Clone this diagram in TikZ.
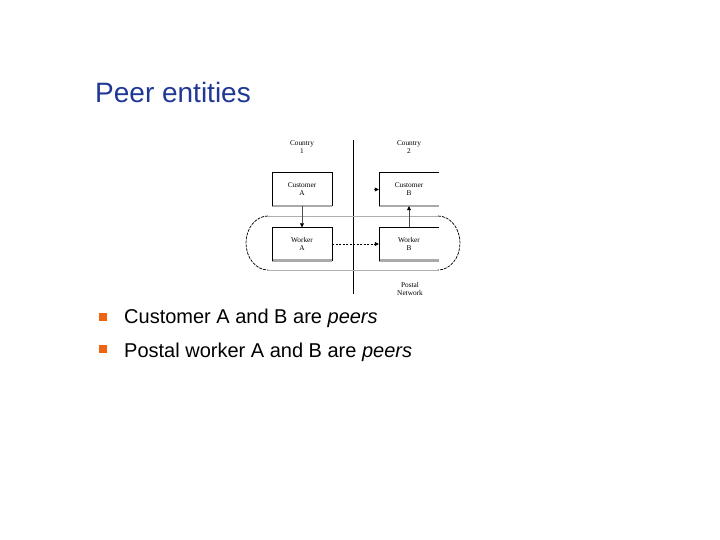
\documentclass[tikz,border=0pt]{standalone}
\usepackage{fontspec}
\setmainfont{Liberation Sans}
\newfontfamily\diagfont{Liberation Serif}
\usetikzlibrary{arrows.meta}
\definecolor{titleblue}{RGB}{31,56,150}
\definecolor{bulletorange}{RGB}{240,100,20}
\definecolor{shadowgray}{RGB}{170,170,170}
\definecolor{ovalgray}{RGB}{175,175,175}
\tikzset{
  x=1pt, y=-1pt,
  entity/.style={draw=none, minimum width=60pt, minimum height=33pt, inner sep=0pt,
    align=center, font=\diagfont\fontsize{7.3}{8}\selectfont},
  lbl/.style={inner sep=0pt, align=center, font=\diagfont\fontsize{7.3}{8}\selectfont},
  edgeblack/.style={draw=black, line width=0.6pt},
  edgeshadow/.style={draw=shadowgray, line width=2.6pt},
  ovalline/.style={draw=ovalgray, line width=0.8pt},
  ovalarc/.style={draw=black, line width=0.7pt, dash pattern=on 3pt off 1pt},
  flow/.style={draw=black!70, line width=0.7pt, -{Triangle[length=4pt,width=4pt,black]}},
  bullet/.style={fill=bulletorange, draw=none, minimum size=8pt, inner sep=0pt},
  btext/.style={anchor=base west, inner sep=0pt, font=\fontsize{20}{24}\selectfont},
}
\begin{document}
\begin{tikzpicture}
\useasboundingbox (0,0) rectangle (720,540);
% title
\node[anchor=base west, inner sep=0pt, text=titleblue, font=\fontsize{28}{32}\selectfont] (title) at (95,103) {Peer entities};

% vertical separator
\coordinate (vtop) at (353,140);
\coordinate (vbot) at (353,294);
\draw[line width=0.8pt] (vtop) -- (vbot);

% country labels
\node[lbl] (c1) at (302,147) {Country\\1};
\node[lbl] (c2) at (409,147) {Country\\2};

% boxes
\node[entity] (custA) at (302,189.5) {Customer\\A};
\node[entity] (custB) at (409,189.5) {Customer\\B};
\node[entity] (workA) at (302,244) {Worker\\A};
\node[entity] (workB) at (409,244) {Worker\\B};

% box edges (A: closed, B: open on the right)
\foreach \b in {custA,workA}{
  \draw[edgeshadow] (\b.south west) -- (\b.south east);
  \draw[edgeblack] (\b.south west) -- (\b.north west) -- (\b.north east) -- (\b.south east);
}
\foreach \b in {custB,workB}{
  \draw[edgeshadow] (\b.south west) -- (\b.south east);
  \draw[edgeblack] (\b.south west) -- (\b.north west) -- (\b.north east);
}

% postal network oval
\coordinate (otl) at (268,216);
\coordinate (obl) at (268,270);
\coordinate (otr) at (438,216);
\coordinate (obr) at (438,270);
\draw[ovalline] (otl) -- (otr);
\draw[ovalline] (obl) -- (obr);
\draw[ovalarc] (otl) arc[start angle=90, end angle=270, x radius=22, y radius=-27];
\draw[ovalarc] (otr) arc[start angle=90, end angle=-90, x radius=22, y radius=-27];
\node[lbl] (postal) at (410,289) {Postal\\Network};

% connectors
\draw[flow] (custA.south) -- (workA.north);
\draw[flow] (workB.north) -- (custB.south);
\draw[flow, draw=black, dash pattern=on 2pt off 1.5pt] (workA.east) -- (workB.west);
\coordinate (inB) at (374,189.5);
\draw[flow] (inB) -- (custB.west);

% bullets
\node[bullet] (b1) at (103,317) {};
\node[bullet] (b2) at (103,349) {};
\node[btext] (t1) at (124,323) {Customer A and B are \textit{peers}};
\node[btext] (t2) at (124,357) {Postal worker A and B are \textit{peers}};
\end{tikzpicture}
\end{document}
